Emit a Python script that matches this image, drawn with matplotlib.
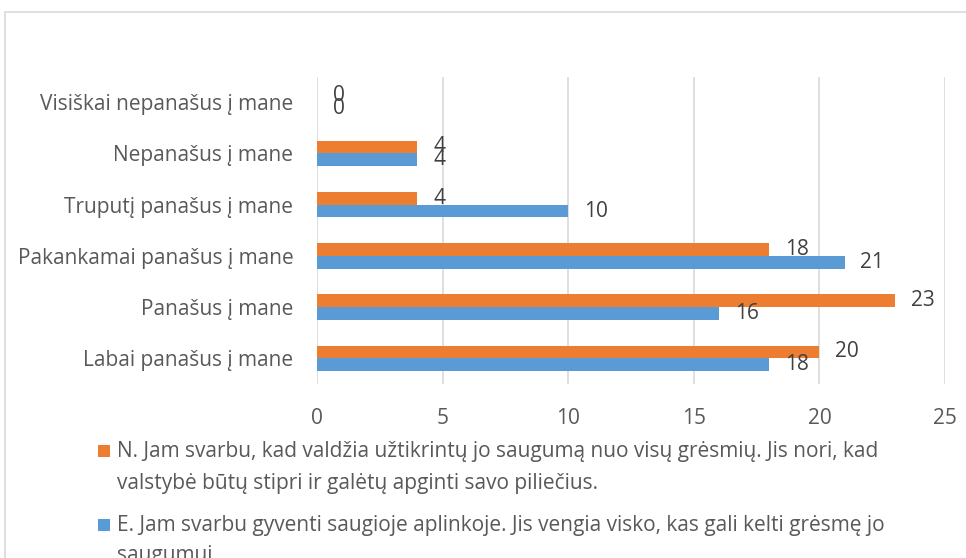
import matplotlib
matplotlib.use("Agg")
import matplotlib.pyplot as plt
from matplotlib.patches import Rectangle

plt.rcParams['font.family'] = ['Open Sans', 'DejaVu Sans']

categories = ["Labai panašus į mane", "Panašus į mane", "Pakankamai panašus į mane",
              "Truputį panašus į mane", "Nepanašus į mane", "Visiškai nepanašus į mane"]
series_n = [20, 23, 18, 4, 4, 0]
series_e = [18, 16, 21, 10, 4, 0]
label_n = ["N. Jam svarbu, kad valdžia užtikrintų jo saugumą nuo visų grėsmių. Jis nori, kad",
           "valstybė būtų stipri ir galėtų apginti savo piliečius."]
label_e = ["E. Jam svarbu gyventi saugioje aplinkoje. Jis vengia visko, kas gali kelti grėsmę jo",
           "saugumui."]
xticks = [0, 5, 10, 15, 20, 25]

c_n = "#ED7D31"
c_e = "#5B9BD5"
txt = "#595959"
grid = "#D9D9D9"
fs = 15

W, H = 966, 558
fig = plt.figure(figsize=(W / 100, H / 100), dpi=100)
fig.patches.append(Rectangle((5 / W, -0.1), 1.2, 1 - 12 / H + 0.1, transform=fig.transFigure,
                             fill=False, edgecolor=grid, linewidth=1.2))

ax = fig.add_axes([317 / W, 1 - 384 / H, (945 - 317) / W, (384 - 76.5) / H])
y = list(range(len(categories)))
h = 0.25
bn = ax.barh([i + h / 2 for i in y], series_n, height=h, color=c_n)
be = ax.barh([i - h / 2 for i in y], series_e, height=h, color=c_e)
for bars, vals in ((bn, series_n), (be, series_e)):
    for b, v in zip(bars, vals):
        ax.annotate(str(v), (b.get_width(), b.get_y() + b.get_height() / 2),
                    xytext=(11.5, 0), textcoords='offset points', ha='left', va='center',
                    fontsize=fs, color="#404040")

ax.set_xlim(0, 25)
ax.set_ylim(-0.5, len(categories) - 0.5)
ax.set_xticks(xticks)
ax.set_xticklabels([str(t) for t in xticks])
ax.set_yticks(y)
ax.set_yticklabels(categories)
ax.tick_params(axis='both', length=0, labelsize=fs, colors=txt)
ax.tick_params(axis='x', pad=17)
ax.tick_params(axis='y', pad=17)
ax.grid(axis='x', color=grid, linewidth=1.2)
ax.set_axisbelow(True)
for s in ax.spines.values():
    s.set_visible(False)

# legend
fig.patches.append(Rectangle((98 / W, 1 - 457 / H), 12 / W, 12 / H, transform=fig.transFigure,
                             facecolor=c_n, edgecolor='none'))
fig.patches.append(Rectangle((98 / W, 1 - 531 / H), 12 / W, 12 / H, transform=fig.transFigure,
                             facecolor=c_e, edgecolor='none'))
for lines, ys in ((label_n, (452, 483)), (label_e, (525, 556))):
    for line, yy in zip(lines, ys):
        fig.text(117 / W, 1 - yy / H, line, ha='left', va='center', fontsize=fs, color=txt)

fig.savefig("out.png", dpi=100)
